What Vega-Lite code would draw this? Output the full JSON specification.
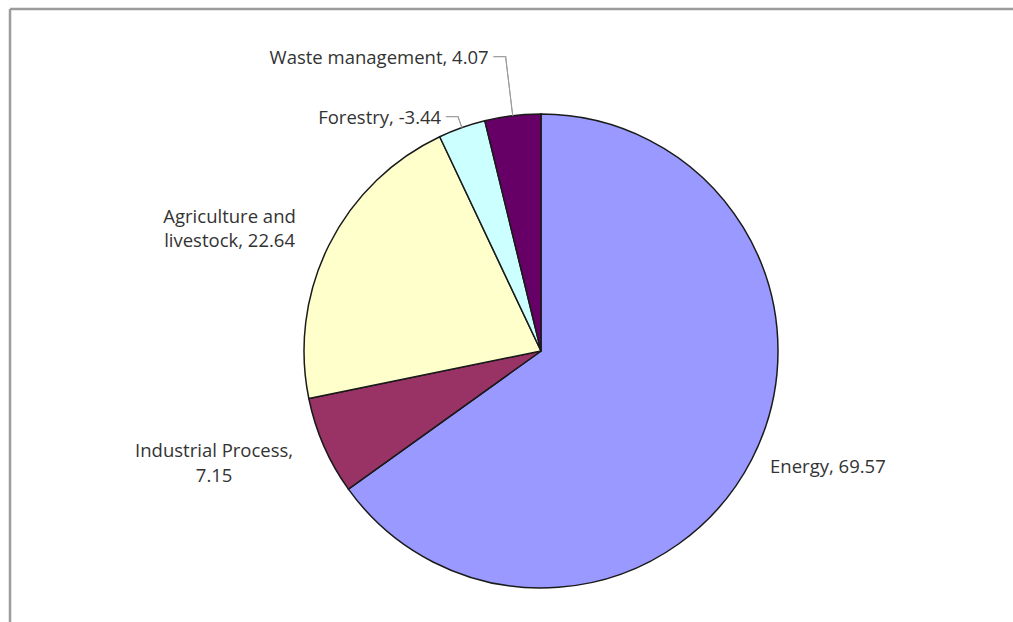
{
  "$schema": "https://vega.github.io/schema/vega-lite/v6.json",
  "width": 1062,
  "height": 684,
  "autosize": "none",
  "padding": {"left": 10, "top": 9, "right": 0, "bottom": 0},
  "background": "white",
  "config": {"view": {"stroke": null}},
  "data": {
    "values": [
      {"idx": 1, "sector": "Energy", "value": 69.57, "share": 69.57, "label": "Energy, 69.57"},
      {"idx": 2, "sector": "Industrial Process", "value": 7.15, "share": 7.15, "label": "Industrial Process,\n7.15"},
      {"idx": 3, "sector": "Agriculture and livestock", "value": 22.64, "share": 22.64, "label": "Agriculture and\nlivestock, 22.64"},
      {"idx": 4, "sector": "Forestry", "value": -3.44, "share": 3.44, "label": "Forestry, -3.44"},
      {"idx": 5, "sector": "Waste management", "value": 4.07, "share": 4.07, "label": "Waste management, 4.07"}
    ]
  },
  "layer": [
    {
      "data": {"values": [{"frame": 1}]},
      "mark": {"type": "rect", "filled": false, "stroke": "#9c9c9c", "strokeWidth": 2.5, "strokeDash": [1062, 1746, 684, 0]}
    },
    {
      "encoding": {
        "theta": {"field": "share", "type": "quantitative", "stack": true},
        "order": {"field": "idx", "type": "quantitative"}
      },
      "layer": [
        {
          "mark": {"type": "arc", "outerRadius": 237, "stroke": "#1a1a1a", "strokeWidth": 1.5},
          "encoding": {
            "color": {
              "field": "sector",
              "type": "nominal",
              "scale": {
                "domain": ["Energy", "Industrial Process", "Agriculture and livestock", "Forestry", "Waste management"],
                "range": ["#9999ff", "#993366", "#ffffcc", "#ccffff", "#660066"]
              },
              "legend": null
            }
          }
        },
        {
          "mark": {"type": "arc", "outerRadius": 296, "innerRadius": 237, "padAngle": 1, "filled": false, "stroke": "#999999", "strokeWidth": 1},
          "encoding": {
            "strokeOpacity": {"condition": {"test": "datum.sector === 'Waste management'", "value": 1}, "value": 0}
          }
        },
        {
          "mark": {"type": "arc", "outerRadius": 248, "innerRadius": 237, "padAngle": 1, "filled": false, "stroke": "#999999", "strokeWidth": 1},
          "encoding": {
            "strokeOpacity": {"condition": {"test": "datum.sector === 'Forestry'", "value": 1}, "value": 0}
          }
        },
        {
          "mark": {"type": "text", "radius": 296, "align": "right", "baseline": "middle", "dx": 1, "font": "Open Sans", "fontSize": 14, "fill": "#a0a0a0"},
          "encoding": {
            "text": {"condition": {"test": "datum.sector === 'Waste management'", "value": "—"}, "value": ""}
          }
        },
        {
          "mark": {"type": "text", "radius": 248, "align": "right", "baseline": "middle", "dx": 1, "font": "Open Sans", "fontSize": 14, "fill": "#a0a0a0"},
          "encoding": {
            "text": {"condition": {"test": "datum.sector === 'Forestry'", "value": "—"}, "value": ""}
          }
        },
        {
          "mark": {"type": "text", "radius": 296, "align": "right", "baseline": "middle", "dx": -17, "dy": 1, "font": "Open Sans", "fontSize": 18.5, "fill": "#333333"},
          "encoding": {
            "text": {"condition": {"test": "datum.sector === 'Waste management'", "field": "label"}, "value": ""}
          }
        },
        {
          "mark": {"type": "text", "radius": 248, "align": "right", "baseline": "middle", "dx": -17, "dy": 1, "font": "Open Sans", "fontSize": 18.5, "fill": "#333333"},
          "encoding": {
            "text": {"condition": {"test": "datum.sector === 'Forestry'", "field": "label"}, "value": ""}
          }
        },
        {
          "mark": {"type": "text", "radius": 262, "align": "left", "baseline": "middle", "dx": -4, "dy": -4, "font": "Open Sans", "fontSize": 18.5, "fill": "#333333"},
          "encoding": {
            "text": {"condition": {"test": "datum.sector === 'Energy'", "field": "label"}, "value": ""}
          }
        },
        {
          "mark": {"type": "text", "radius": 300, "align": "center", "baseline": "middle", "dx": -52, "dy": -20, "font": "Open Sans", "fontSize": 18.5, "lineHeight": 25, "lineBreak": "\n", "fill": "#333333"},
          "encoding": {
            "text": {"condition": {"test": "datum.sector === 'Industrial Process'", "field": "label"}, "value": ""}
          }
        },
        {
          "mark": {"type": "text", "radius": 280, "align": "center", "baseline": "middle", "dx": -61, "dy": -9, "font": "Open Sans", "fontSize": 18.5, "lineHeight": 24, "lineBreak": "\n", "fill": "#333333"},
          "encoding": {
            "text": {"condition": {"test": "datum.sector === 'Agriculture and livestock'", "field": "label"}, "value": ""}
          }
        }
      ]
    }
  ]
}
